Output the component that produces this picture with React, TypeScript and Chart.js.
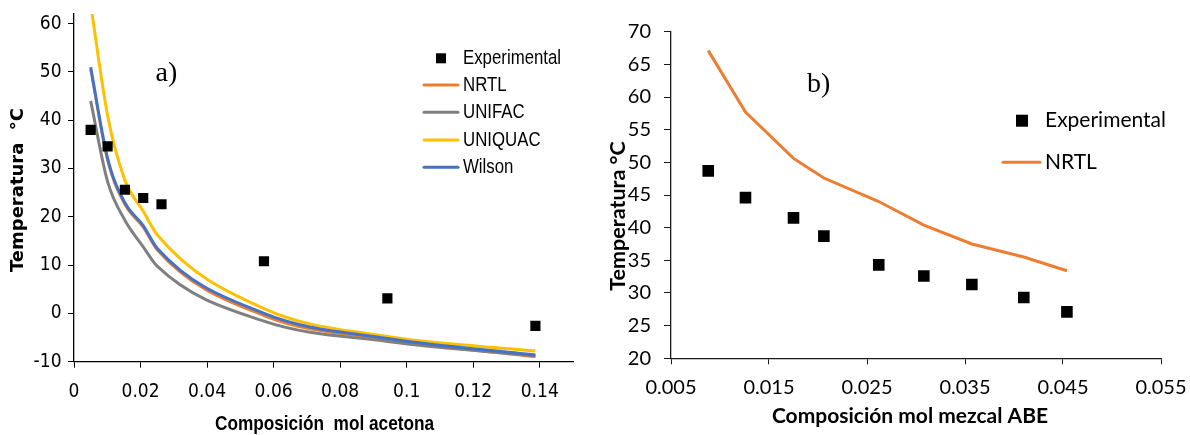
import React, { useEffect, useRef } from "react";
import { Chart, registerables } from "chart.js";

Chart.register(...registerables);

// ---------- Panel a) : acetona ----------
const expXA = [0.005, 0.0101, 0.0153, 0.0208, 0.0263, 0.0571, 0.0942, 0.1387];
const expTA = [38.0, 34.6, 25.6, 23.9, 22.6, 10.8, 3.1, -2.6];
const modelXA = [0.005, 0.0101, 0.0153, 0.0208, 0.025, 0.0571, 0.0942, 0.1387];
const nrtlA = [50.5, 31.6, 22.5, 17.8, 13.1, -0.5, -5.5, -9.0];
const unifacA = [44.0, 27.3, 19.3, 13.8, 9.8, -1.6, -5.8, -8.8];
const uniquacA = [64.0, 41.0, 27.6, 21.2, 16.3, 1.0, -4.8, -7.8];
const wilsonA = [51.0, 32.1, 22.9, 18.2, 13.5, 0.0, -5.2, -8.6];
const xTicksA = [0, 0.02, 0.04, 0.06, 0.08, 0.1, 0.12, 0.14];
const yTicksA = [-10, 0, 10, 20, 30, 40, 50, 60];

// ---------- Panel b) : mezcal ABE ----------
const expXB = [0.0088, 0.0126, 0.0175, 0.0206, 0.0262, 0.0308, 0.0357, 0.041, 0.0454];
const expTB = [48.7, 44.6, 41.5, 38.7, 34.3, 32.6, 31.3, 29.3, 27.1];
const nrtlB = [67.1, 57.7, 50.6, 47.6, 44.0, 40.4, 37.5, 35.5, 33.4];
const xTicksB = [0.005, 0.015, 0.025, 0.035, 0.045, 0.055];
const yTicksB = [20, 25, 30, 35, 40, 45, 50, 55, 60, 65, 70];

const pts = (xs: number[], ys: number[]) => xs.map((x, i) => ({ x, y: ys[i] }));
const fmt = (v: number) => String(Number(Number(v).toFixed(4)));

function drawText(ctx: any, text: string, x: number, y: number, font: string, align: string, sx = 1, rot = 0) {
  ctx.save();
  ctx.translate(x, y);
  if (rot) ctx.rotate(rot);
  ctx.scale(sx, 1);
  ctx.font = font;
  ctx.textAlign = align;
  ctx.textBaseline = "middle";
  ctx.fillStyle = "#000";
  ctx.fillText(text, 0, 0);
  ctx.restore();
}

const decoPlugin = {
  id: "deco",
  afterDraw(chart: any, _args: any, opts: any) {
    const ctx = chart.ctx;
    ctx.save();
    // tick labels, placed through the chart's own scales
    const xs = chart.scales.x;
    const ys = chart.scales.y;
    for (const v of opts.xTicks) {
      drawText(ctx, fmt(v), xs.getPixelForValue(v), opts.xLabelY, opts.tickFont, "center");
    }
    for (const v of opts.yTicks) {
      drawText(ctx, fmt(v), opts.yLabelRight, ys.getPixelForValue(v), opts.tickFont, "right");
    }
    // legend
    for (const it of opts.items) {
      const ds = chart.data.datasets[it.ds];
      if (it.kind === "marker") {
        ctx.fillStyle = ds.backgroundColor;
        ctx.fillRect(it.mx - it.size / 2, it.y - it.size / 2, it.size, it.size);
      } else {
        ctx.strokeStyle = ds.borderColor;
        ctx.lineWidth = it.lw;
        ctx.lineCap = "round";
        ctx.beginPath();
        ctx.moveTo(it.x1, it.y);
        ctx.lineTo(it.x2, it.y);
        ctx.stroke();
      }
      drawText(ctx, ds.label, opts.textX, it.y, opts.legendFont, "left", opts.legendSx || 1);
    }
    // axis titles
    for (const t of opts.titles) {
      drawText(ctx, t.text, t.x, t.y, t.font, "center", t.sx || 1, t.rot || 0);
    }
    // panel label
    ctx.font = opts.panelFont;
    ctx.textBaseline = "alphabetic";
    ctx.textAlign = "left";
    ctx.fillStyle = "#000";
    ctx.fillText(opts.panel, opts.panelX, opts.panelY);
    ctx.restore();
  },
};

function setTicks(vals: number[]) {
  return (scale: any) => {
    scale.ticks = vals.map((v) => ({ value: v }));
  };
}

function configA(): any {
  return {
    type: "scatter",
    data: {
      datasets: [
        { label: "Experimental", data: pts(expXA, expTA), pointStyle: "rect", pointRadius: 7.2, pointBorderWidth: 0, backgroundColor: "#000", borderColor: "#000", showLine: false, order: 0 },
        { label: "NRTL", data: pts(modelXA, nrtlA), borderColor: "#ED7D31", backgroundColor: "#ED7D31", borderWidth: 2.5, pointRadius: 0, showLine: true, cubicInterpolationMode: "monotone", order: 4 },
        { label: "UNIFAC", data: pts(modelXA, unifacA), borderColor: "#808080", backgroundColor: "#808080", borderWidth: 3, pointRadius: 0, showLine: true, cubicInterpolationMode: "monotone", order: 3 },
        { label: "UNIQUAC", data: pts(modelXA, uniquacA), borderColor: "#FFC000", backgroundColor: "#FFC000", borderWidth: 3, pointRadius: 0, showLine: true, cubicInterpolationMode: "monotone", order: 2 },
        { label: "Wilson", data: pts(modelXA, wilsonA), borderColor: "#4472C4", backgroundColor: "#4472C4", borderWidth: 3, pointRadius: 0, showLine: true, cubicInterpolationMode: "monotone", order: 1 },
      ],
    },
    options: {
      responsive: false,
      animation: false,
      events: [],
      layout: { padding: { left: 0, top: 14, right: 22, bottom: 0 } },
      plugins: {
        legend: { display: false },
        tooltip: { enabled: false },
        deco: {
          xTicks: xTicksA,
          yTicks: yTicksA,
          tickFont: "19px 'DejaVu Sans Condensed', 'DejaVu Sans', sans-serif",
          xLabelY: 392,
          yLabelRight: 61.5,
          legendFont: "20.5px 'Liberation Sans', Arial, sans-serif",
          legendSx: 0.82,
          textX: 463,
          items: [
            { kind: "marker", ds: 0, mx: 441, y: 58.3, size: 10 },
            { kind: "line", ds: 1, x1: 424, x2: 458, y: 85, lw: 3 },
            { kind: "line", ds: 2, x1: 424, x2: 458, y: 112.3, lw: 3 },
            { kind: "line", ds: 3, x1: 424, x2: 458, y: 140, lw: 3 },
            { kind: "line", ds: 4, x1: 424, x2: 458, y: 167.3, lw: 3 },
          ],
          titles: [
            { text: "Composición  mol acetona", x: 324.5, y: 424.5, font: "bold 21px 'Liberation Sans', Arial, sans-serif", sx: 0.82 },
            { text: "Temperatura  °C", x: 18.5, y: 190, font: "bold 18px 'DejaVu Sans', sans-serif", rot: -Math.PI / 2 },
          ],
          panel: "a)",
          panelFont: "28px 'Liberation Serif', serif",
          panelX: 155.5,
          panelY: 81,
        },
      },
      scales: {
        x: {
          type: "linear",
          min: 0,
          max: 0.15,
          afterBuildTicks: setTicks(xTicksA),
          afterFit: (s: any) => { s.height = 73.3; },
          grid: { display: true, drawOnChartArea: false, drawTicks: true, tickLength: 6, color: "#000" },
          border: { display: true, color: "#000", width: 1.3 },
          ticks: { display: false },
          title: { display: false },
        },
        y: {
          type: "linear",
          min: -10,
          max: 62,
          afterBuildTicks: setTicks(yTicksA),
          afterFit: (s: any) => { s.width = 74; },
          grid: { display: true, drawOnChartArea: false, drawTicks: true, tickLength: 6, color: "#000" },
          border: { display: true, color: "#000", width: 1.3 },
          ticks: { display: false },
          title: { display: false },
        },
      },
    },
    plugins: [decoPlugin],
  };
}

function configB(): any {
  return {
    type: "scatter",
    data: {
      datasets: [
        { label: "Experimental", data: pts(expXB, expTB), pointStyle: "rect", pointRadius: 8.2, pointBorderWidth: 0, backgroundColor: "#000", borderColor: "#000", showLine: false, order: 0 },
        { label: "NRTL", data: pts(expXB, nrtlB), borderColor: "#ED7D31", backgroundColor: "#ED7D31", borderWidth: 3, pointRadius: 0, showLine: true, tension: 0, order: 1 },
      ],
    },
    options: {
      responsive: false,
      animation: false,
      events: [],
      layout: { padding: { left: 0, top: 31.7, right: 29, bottom: 0 } },
      plugins: {
        legend: { display: false },
        tooltip: { enabled: false },
        deco: {
          xTicks: xTicksB,
          yTicks: yTicksB,
          tickFont: "20px Lato, 'Open Sans', sans-serif",
          xLabelY: 388,
          yLabelRight: 56,
          legendFont: "21px Lato, 'Open Sans', sans-serif",
          textX: 450,
          items: [
            { kind: "marker", ds: 0, mx: 427, y: 120.7, size: 12 },
            { kind: "line", ds: 1, x1: 408, x2: 445, y: 162.3, lw: 3 },
          ],
          titles: [
            { text: "Composición mol mezcal ABE", x: 315, y: 416.5, font: "bold 21px Lato, 'Open Sans', sans-serif" },
            { text: "Temperatura °C", x: 23, y: 216, font: "bold 21.5px Lato, 'Open Sans', sans-serif", rot: -Math.PI / 2 },
          ],
          panel: "b)",
          panelFont: "28px 'Liberation Serif', serif",
          panelX: 212,
          panelY: 91.5,
        },
      },
      scales: {
        x: {
          type: "linear",
          min: 0.005,
          max: 0.055,
          afterBuildTicks: setTicks(xTicksB),
          afterFit: (s: any) => { s.height = 76.7; },
          grid: { display: true, drawOnChartArea: false, drawTicks: true, tickLength: 6, color: "#1a1a1a" },
          border: { display: true, color: "#1a1a1a", width: 1.3 },
          ticks: { display: false },
          title: { display: false },
        },
        y: {
          type: "linear",
          min: 20,
          max: 70,
          afterBuildTicks: setTicks(yTicksB),
          afterFit: (s: any) => { s.width = 76; },
          grid: { display: true, drawOnChartArea: false, drawTicks: true, tickLength: 7, color: "#1a1a1a" },
          border: { display: true, color: "#1a1a1a", width: 1.3 },
          ticks: { display: false },
          title: { display: false },
        },
      },
    },
    plugins: [decoPlugin],
  };
}

function ChartCanvas({ make, left }: { make: () => any; left: number }) {
  const ref = useRef<HTMLCanvasElement | null>(null);
  useEffect(() => {
    if (!ref.current) return;
    const chart = new Chart(ref.current, make());
    return () => chart.destroy();
  }, [make]);
  return (
    <canvas
      ref={ref}
      width={595}
      height={435}
      style={{ position: "absolute", left, top: 0, width: 595, height: 435 }}
    />
  );
}

export default function App() {
  return (
    <div style={{ position: "fixed", left: 0, top: 0, width: 1190, height: 435, background: "#fff", overflow: "hidden" }}>
      <ChartCanvas make={configA} left={0} />
      <ChartCanvas make={configB} left={595} />
    </div>
  );
}
